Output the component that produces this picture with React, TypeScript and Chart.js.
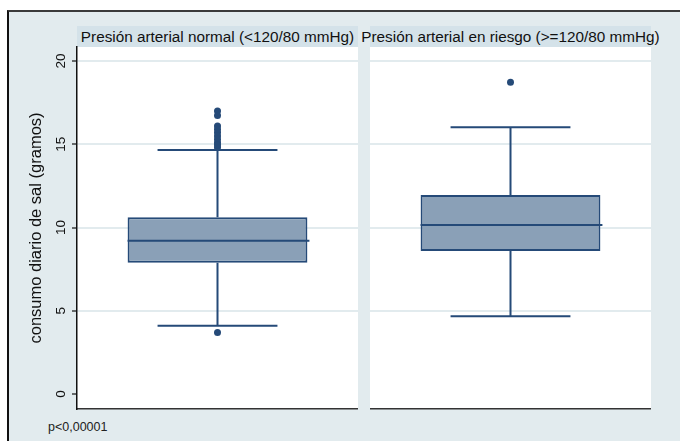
import React, { useEffect, useRef } from 'react';
import { Chart, registerables } from 'chart.js';

Chart.register(...registerables);

// ---- data ----
const groups = ['Presión arterial normal (<120/80 mmHg)', 'Presión arterial en riesgo (>=120/80 mmHg)'];
const q1 = [7.89, 8.59];
const medians = [9.21, 10.15];
const q3 = [10.61, 11.95];
const whiskerLow = [4.1, 4.67];
const whiskerHigh = [14.65, 16.02];
const outliersNormal = [17.0, 16.72, 16.1, 15.9, 15.7, 15.5, 15.3, 15.1, 14.95, 14.8, 3.7];
const outliersRisk = [18.72];
const outlierSets = [outliersNormal, outliersRisk];
const yTicks = [0, 5, 10, 15, 20];
const yMin = -0.9;
const yMax = 20.84;
const yTitle = 'consumo diario de sal (gramos)';
const note = 'p<0,00001';

// ---- styles ----
const FONT = "'Liberation Sans', Arial, sans-serif";
const NAVY = '#254a78';
const FILL = '#8aa0b7';
const GRID = '#e2ebee';
const BG = '#e2ebee';
const STRIP = '#d4e2e9';

const boxPlugin = {
  id: 'boxWhiskers',
  beforeDraw(chart: any) {
    const { ctx, chartArea } = chart;
    ctx.save();
    ctx.fillStyle = '#ffffff';
    ctx.fillRect(chartArea.left, chartArea.top, chartArea.right - chartArea.left, chartArea.bottom - chartArea.top);
    ctx.restore();
  },
  afterDatasetsDraw(chart: any) {
    const idx = chart.options.plugins.boxWhiskers.index;
    const meta = chart.getDatasetMeta(0);
    const el = meta.data[0];
    if (!el) return;
    const y = chart.scales.y;
    const { ctx } = chart;
    const x = el.x;
    const half = el.width / 2;
    const cap = el.width / 3;
    ctx.save();
    ctx.strokeStyle = NAVY;
    ctx.lineWidth = 2;
    ctx.beginPath();
    // median
    const ym = y.getPixelForValue(medians[idx]);
    ctx.moveTo(x - half, ym);
    ctx.lineTo(x + half + 2, ym);
    // upper whisker
    const yq3 = y.getPixelForValue(q3[idx]);
    const yhi = y.getPixelForValue(whiskerHigh[idx]);
    ctx.moveTo(x, yq3);
    ctx.lineTo(x, yhi);
    ctx.moveTo(x - cap, yhi);
    ctx.lineTo(x + cap, yhi);
    // lower whisker
    const yq1 = y.getPixelForValue(q1[idx]);
    const ylo = y.getPixelForValue(whiskerLow[idx]);
    ctx.moveTo(x, yq1);
    ctx.lineTo(x, ylo);
    ctx.moveTo(x - cap, ylo);
    ctx.lineTo(x + cap, ylo);
    ctx.stroke();
    ctx.restore();
  },
};

function Panel({ index, showAxis, left, width }: { index: number; showAxis: boolean; left: number; width: number }) {
  const ref = useRef<HTMLCanvasElement | null>(null);
  useEffect(() => {
    if (!ref.current) return;
    const chart = new Chart(ref.current, {
      type: 'bar',
      data: {
        labels: [groups[index]],
        datasets: [
          {
            type: 'bar',
            data: [[q1[index], q3[index]]] as any,
            backgroundColor: FILL,
            borderColor: NAVY,
            borderWidth: 2,
            borderSkipped: false,
            barPercentage: 0.64,
            categoryPercentage: 1,
          } as any,
          {
            type: 'scatter',
            data: outlierSets[index].map((v) => ({ x: groups[index], y: v })) as any,
            pointRadius: 3.5,
            pointBackgroundColor: NAVY,
            pointBorderColor: NAVY,
            pointBorderWidth: 0,
            backgroundColor: NAVY,
            borderColor: NAVY,
            showLine: false,
          } as any,
        ],
      },
      options: {
        animation: false,
        responsive: false,
        devicePixelRatio: 1,
        layout: { autoPadding: false, padding: { top: 3, bottom: 3, left: 0, right: 0 } },
        plugins: {
          legend: { display: false },
          tooltip: { enabled: false },
          boxWhiskers: { index },
        } as any,
        scales: {
          x: {
            type: 'category',
            offset: true,
            display: true,
            grid: { display: false, drawTicks: false },
            ticks: { display: false },
            border: { display: true, color: '#333333', width: 1.5 },
            afterFit: (s: any) => {
              s.height = 0;
              s.paddingLeft = 0;
              s.paddingRight = 0;
            },
          },
          y: {
            type: 'linear',
            min: yMin,
            max: yMax,
            afterBuildTicks: (s: any) => {
              s.ticks = yTicks.map((v) => ({ value: v }));
            },
            grid: {
              color: (c: any) => (c.tick && c.tick.value === 0 ? 'rgba(0,0,0,0)' : GRID),
              lineWidth: 2,
              tickColor: '#111111',
              tickLength: 5,
              tickWidth: 1.2,
              drawTicks: showAxis,
            },
            border: { display: showAxis, color: '#111111', width: 1.5 },
            ticks: {
              display: showAxis,
              minRotation: 90,
              maxRotation: 90,
              crossAlign: 'center',
              padding: 3.5,
              color: '#111111',
              font: { size: 13.5, family: FONT },
            },
            title: {
              display: showAxis,
              text: yTitle,
              color: '#111111',
              font: { size: 16.5, family: FONT },
              padding: { top: 27, bottom: 0 },
            },
            afterFit: (s: any) => {
              s.width = showAxis ? 77 : 0;
              s.paddingTop = 0;
              s.paddingBottom = 0;
            },
          },
        } as any,
      },
      plugins: [boxPlugin],
    });
    return () => chart.destroy();
  }, [index, showAxis]);
  return (
    <canvas
      ref={ref}
      width={width}
      height={368}
      style={{ position: 'absolute', left, top: 44, width, height: 368 }}
    />
  );
}

export default function App() {
  const stripText: React.CSSProperties = {
    position: 'absolute',
    top: 26,
    height: 21,
    width: 281,
    background: STRIP,
    display: 'flex',
    justifyContent: 'center',
    alignItems: 'center',
    whiteSpace: 'nowrap',
    fontFamily: FONT,
    fontSize: 15.3,
    color: '#111111',
  };
  return (
    <div style={{ position: 'absolute', left: 0, top: 0, width: 680, height: 441, background: '#ffffff', overflow: 'hidden' }}>
      <div
        style={{
          position: 'absolute',
          left: 7,
          top: 10,
          width: 700,
          height: 460,
          background: BG,
          borderTop: '2px solid #3a3a3a',
          borderLeft: '2px solid #111111',
        }}
      />
      <div style={{ ...stripText, left: 77 }}>{groups[0]}</div>
      <div style={{ ...stripText, left: 370 }}>{groups[1]}</div>
      <Panel index={0} showAxis={true} left={0} width={358} />
      <Panel index={1} showAxis={false} left={370} width={281} />
      <div
        style={{
          position: 'absolute',
          left: 48,
          top: 420,
          fontFamily: FONT,
          fontSize: 12.5,
          color: '#222222',
          whiteSpace: 'nowrap',
        }}
      >
        {note}
      </div>
    </div>
  );
}
